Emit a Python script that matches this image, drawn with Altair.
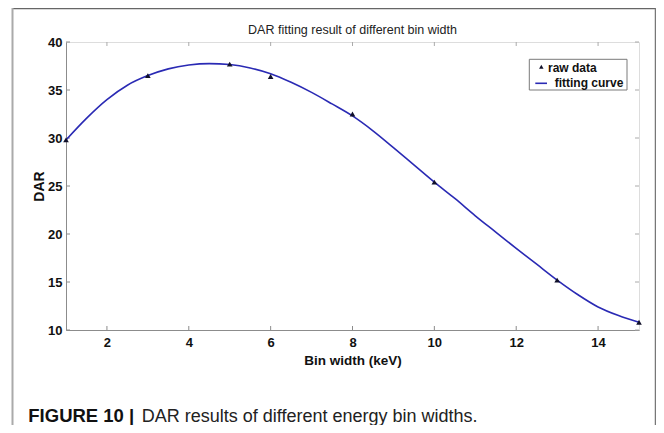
import altair as alt
import pandas as pd

# ---------------- data ----------------
raw_x = [1, 3, 5, 6, 8, 10, 13, 15]
raw_y = [29.8, 36.5, 37.7, 36.4, 32.5, 25.4, 15.2, 10.8]

curve_x = [1, 1.5, 2, 2.5, 3, 3.5, 4, 4.5, 5, 5.5, 6, 6.5, 7, 7.5, 8, 8.5,
           9, 9.5, 10, 10.5, 11, 11.5, 12, 12.5, 13, 13.5, 14, 14.5, 15]
curve_y = [29.8, 32.05, 34.0, 35.5, 36.5, 37.2, 37.6, 37.75, 37.65, 37.3,
           36.7, 35.8, 34.75, 33.55, 32.3, 30.75, 29.0, 27.2, 25.4, 23.7,
           21.9, 20.2, 18.5, 16.85, 15.2, 13.7, 12.4, 11.5, 10.8]

x_ticks = [2, 4, 6, 8, 10, 12, 14]
y_ticks = [10, 15, 20, 25, 30, 35, 40]

legend_labels = ["raw data", "fitting curve"]
chart_title = "DAR fitting result of different bin width"
x_title = "Bin width (keV)"
y_title = "DAR"
caption_bold = "FIGURE 10 |"
caption_text = "DAR results of different energy bin widths."

# ---------------- layout helpers ----------------
W, H = 573, 288
OX, OY = 66, 42   # page position of plot origin


def px(v):
    return v - OX


def py(v):
    return v - OY


FONT = "Liberation Sans"
BLUE = "#2a2ab4"

xs = alt.Scale(domain=[1, 15], nice=False, zero=False)
ys = alt.Scale(domain=[10, 40], nice=False, zero=False)

x_axis = alt.Axis(values=x_ticks, title=x_title, ticks=False, grid=False,
                  domainColor="#8c8c8c", domainWidth=1, format="d",
                  labelFont=FONT, labelFontWeight="bold", labelFontSize=13,
                  labelColor="#111", labelPadding=6,
                  titleFont=FONT, titleFontWeight="bold", titleFontSize=13.5,
                  titleColor="#111", titlePadding=4)
y_axis = alt.Axis(values=y_ticks, title=y_title, ticks=False, grid=False,
                  domainColor="#8c8c8c", domainWidth=1, format="d",
                  labelFont=FONT, labelFontWeight="bold", labelFontSize=13,
                  labelColor="#111", labelPadding=4,
                  titleFont=FONT, titleFontWeight="bold", titleFontSize=14,
                  titleColor="#111", titlePadding=1)

one = pd.DataFrame({"a": [0]})

# outer frame
frame_top = alt.Chart(one).mark_rule(color="#666", strokeWidth=1.5).encode(
    x=alt.value(px(12)), x2=alt.value(px(655.5)), y=alt.value(py(8.6)))
frame_left = alt.Chart(one).mark_rule(color="#aaa", strokeWidth=2).encode(
    x=alt.value(px(12.5)), y=alt.value(py(8)), y2=alt.value(py(440)))
frame_right = alt.Chart(one).mark_rule(color="#777", strokeWidth=1.5).encode(
    x=alt.value(px(655.5)), y=alt.value(py(8)), y2=alt.value(py(440)))

# title as a text mark
title_mark = alt.Chart(pd.DataFrame({"t": [chart_title]})).mark_text(
    align="center", baseline="alphabetic", font=FONT, fontSize=12.5,
    color="#222").encode(
    text="t:N", x=alt.value(W / 2), y=alt.value(py(33.5)))

curve_df = pd.DataFrame({"x": curve_x, "y": curve_y})
raw_df = pd.DataFrame({"x": raw_x, "y": raw_y})

curve = alt.Chart(curve_df).mark_line(color=BLUE, strokeWidth=1.6,
                                      interpolate="monotone").encode(
    x=alt.X("x:Q", scale=xs, axis=x_axis),
    y=alt.Y("y:Q", scale=ys, axis=y_axis))

points = alt.Chart(raw_df).mark_point(shape="triangle-up", filled=True,
                                      color="#10102a", size=32, opacity=1).encode(
    x=alt.X("x:Q", scale=xs, axis=x_axis),
    y=alt.Y("y:Q", scale=ys, axis=y_axis))

# inward ticks
xt = pd.DataFrame({"t": x_ticks})
yt = pd.DataFrame({"t": y_ticks})
TC = "#8c8c8c"
tick_bottom = alt.Chart(xt).mark_rule(color=TC).encode(
    x=alt.X("t:Q", scale=xs, axis=x_axis), y=alt.value(H), y2=alt.value(H - 4))
tick_top = alt.Chart(xt).mark_rule(color="#aaa").encode(
    x=alt.X("t:Q", scale=xs, axis=x_axis), y=alt.value(0), y2=alt.value(4))
tick_left = alt.Chart(yt).mark_rule(color=TC).encode(
    y=alt.Y("t:Q", scale=ys, axis=y_axis), x=alt.value(0), x2=alt.value(4))
tick_right = alt.Chart(yt).mark_rule(color="#aaa").encode(
    y=alt.Y("t:Q", scale=ys, axis=y_axis), x=alt.value(W), x2=alt.value(W - 4))

# legend
leg_box = alt.Chart(one).mark_rect(fill="white", stroke="#7a7a7a", strokeWidth=1).encode(
    x=alt.value(px(529.3)), x2=alt.value(px(627)),
    y=alt.value(py(59.3)), y2=alt.value(py(90)))
leg_tri = alt.Chart(one).mark_point(shape="triangle-up", filled=True, size=20,
                                    color="#10102a", opacity=1).encode(
    x=alt.value(px(541.3)), y=alt.value(py(66.8)))
leg_line = alt.Chart(one).mark_rule(color=BLUE, strokeWidth=1.6).encode(
    x=alt.value(px(535.3)), x2=alt.value(px(547)), y=alt.value(py(83.3)))
leg_t1 = alt.Chart(pd.DataFrame({"label": [legend_labels[0]]})).mark_text(
    align="left", baseline="middle", font=FONT, fontWeight="bold",
    fontSize=12, color="#111").encode(
    text="label:N", x=alt.value(px(548)), y=alt.value(py(68.3)))
leg_t2 = alt.Chart(pd.DataFrame({"label": [legend_labels[1]]})).mark_text(
    align="left", baseline="middle", font=FONT, fontWeight="bold",
    fontSize=12, color="#111").encode(
    text="label:N", x=alt.value(px(554.7)), y=alt.value(py(82.8)))

# caption
cap1 = alt.Chart(pd.DataFrame({"c": [caption_bold]})).mark_text(
    align="left", baseline="alphabetic", font=FONT, fontWeight="bold",
    fontSize=18.5, color="#111").encode(
    text="c:N", x=alt.value(px(28.3)), y=alt.value(py(421.5)))
cap2 = alt.Chart(pd.DataFrame({"c": [caption_text]})).mark_text(
    align="left", baseline="alphabetic", font=FONT, fontWeight="normal",
    fontSize=18, color="#222").encode(
    text="c:N", x=alt.value(px(141.7)), y=alt.value(py(421.5)))

chart = alt.layer(
    frame_top, frame_left, frame_right, title_mark,
    tick_bottom, tick_top, tick_left, tick_right,
    curve, points,
    leg_box, leg_tri, leg_line, leg_t1, leg_t2,
    cap1, cap2,
).properties(
    width=W, height=H,
    autosize=alt.AutoSizeParams(type="none"),
    padding={"left": OX - 8, "top": OY - 8, "right": 17, "bottom": 433 - 16 - (OY - 8) - H},
).configure_view(stroke="#d0d0d0", strokeWidth=1).configure(background="white")

chart.save("out.html", embed_options={"renderer": "svg", "actions": False})
